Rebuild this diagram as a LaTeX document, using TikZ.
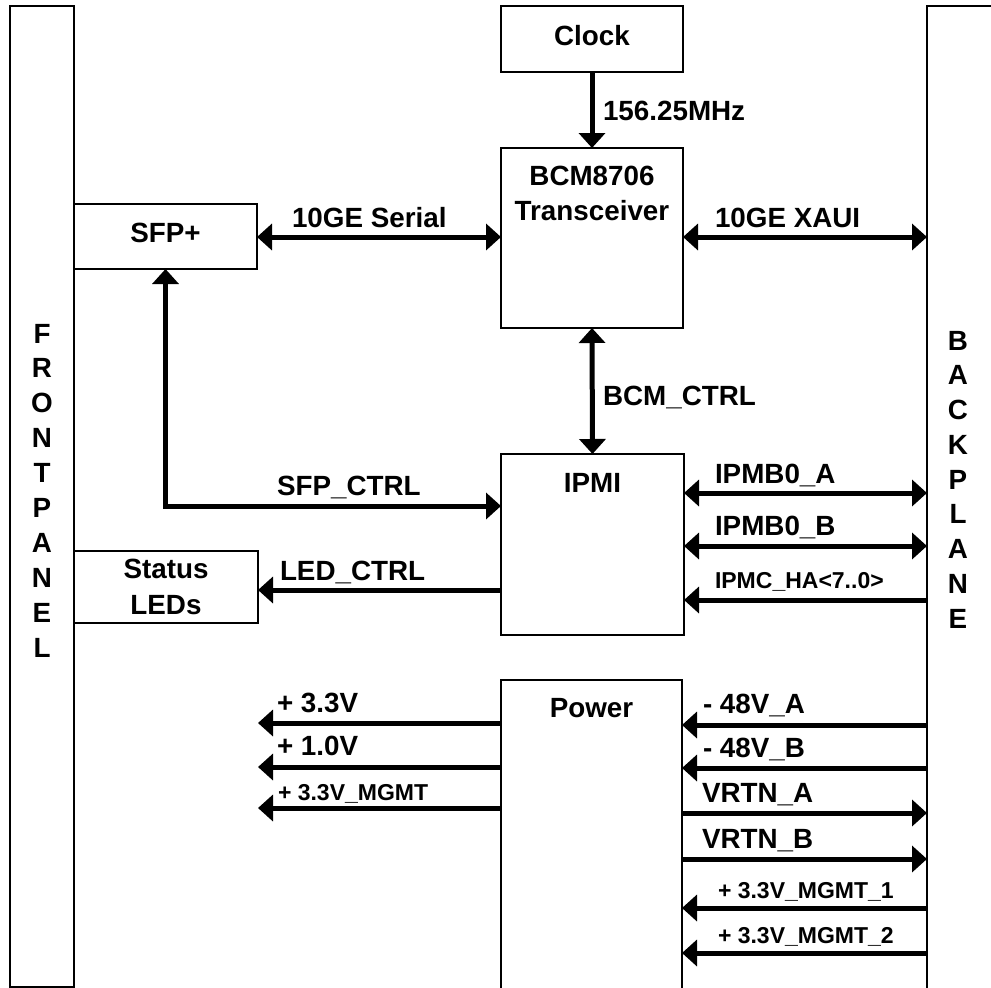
\documentclass[tikz,border=0pt]{standalone}
\usepackage{fontspec}
\setmainfont{Liberation Sans}
\usetikzlibrary{arrows.meta}
\tikzset{
  box/.style={draw, line width=1.6pt, inner sep=0pt, outer sep=0pt},
  txt/.style={inner sep=0pt, outer sep=0pt, font=\fontsize{27.8}{35}\selectfont\bfseries},
  stxt/.style={inner sep=0pt, outer sep=0pt, font=\fontsize{23}{28}\selectfont\bfseries},
  lab/.style={txt, anchor=base west},
  slab/.style={stxt, anchor=base west},
  sig/.style={line width=5pt, ->},
  dsig/.style={line width=5pt, <->},
  >={Triangle[length=15pt,width=26pt]}
}
\begin{document}
\begin{tikzpicture}[x=1pt,y=-1pt]
\clip (0,0) rectangle (991,988);
\fill[white] (0,0) rectangle (991,988);
% panels
\node[box, minimum width=64pt, minimum height=981pt] (front) at (42,496.5) {};
\node[box, minimum width=83pt, minimum height=1004pt] (back) at (968.5,508) {};
% boxes
\node[box, minimum width=182pt, minimum height=66pt] (clock) at (592,39) {};
\node[box, minimum width=182pt, minimum height=180pt] (bcm) at (592,238) {};
\node[box, minimum width=183pt, minimum height=65pt] (sfp) at (165.5,236.5) {};
\node[box, minimum width=183pt, minimum height=181pt] (ipmi) at (592.5,544.5) {};
\node[box, minimum width=184pt, minimum height=72pt] (leds) at (166,587) {};
\node[box, minimum width=181pt, minimum height=330pt] (power) at (591.5,845) {};
% box texts
\node[txt, anchor=base] (tclock) at (592,45) {Clock};
\node[txt, anchor=base] (tbcm1) at (592,185) {BCM8706};
\node[txt, anchor=base] (tbcm2) at (592,220) {Transceiver};
\node[txt, anchor=base] (tsfp) at (165.5,242) {SFP+};
\node[txt, anchor=base] (tled1) at (166,578) {Status};
\node[txt, anchor=base] (tled2) at (166,614) {LEDs};
\node[txt, anchor=base] (tipmi) at (592.5,492) {IPMI};
\node[txt, anchor=base] (tpower) at (591.5,717) {Power};
% panel letters
\foreach \l [count=\i from 0] in {F,R,O,N,T,P,A,N,E,L}
  \node[txt, anchor=base] (fp\i) at (42,343+34.9*\i) {\l};
\foreach \l [count=\i from 0] in {B,A,C,K,P,L,A,N,E}
  \node[txt, anchor=base] (bp\i) at (958,350+34.75*\i) {\l};
% level coordinates
\coordinate (ya) at (0,237);
\coordinate (ysfp) at (0,506);
\coordinate (yled) at (0,590);
\coordinate (yb0a) at (0,493);
\coordinate (yb0b) at (0,546);
\coordinate (yha) at (0,600);
\coordinate (yp1) at (0,723);
\coordinate (yp2) at (0,767);
\coordinate (yp3) at (0,808);
\coordinate (yr1) at (0,725);
\coordinate (yr2) at (0,768);
\coordinate (yr3) at (0,813);
\coordinate (yr4) at (0,859);
\coordinate (yr5) at (0,908);
\coordinate (yr6) at (0,953);
% connectors
\draw[sig] (clock.south) -- (bcm.north);
\draw[dsig] (sfp.east |- ya) -- (bcm.west |- ya);
\draw[dsig] (bcm.east |- ya) -- (back.west |- ya);
\draw[dsig] (bcm.south) -- (ipmi.north);
\draw[dsig] (sfp.south) |- (ipmi.west |- ysfp);
\draw[sig] (ipmi.west |- yled) -- (leds.east |- yled);
\draw[dsig] (ipmi.east |- yb0a) -- (back.west |- yb0a);
\draw[dsig] (ipmi.east |- yb0b) -- (back.west |- yb0b);
\draw[sig] (back.west |- yha) -- (ipmi.east |- yha);
\draw[sig] (power.west |- yp1) -- (leds.east |- yp1);
\draw[sig] (power.west |- yp2) -- (leds.east |- yp2);
\draw[sig] (power.west |- yp3) -- (leds.east |- yp3);
\draw[sig] (back.west |- yr1) -- (power.east |- yr1);
\draw[sig] (back.west |- yr2) -- (power.east |- yr2);
\draw[sig] (power.east |- yr3) -- (back.west |- yr3);
\draw[sig] (power.east |- yr4) -- (back.west |- yr4);
\draw[sig] (back.west |- yr5) -- (power.east |- yr5);
\draw[sig] (back.west |- yr6) -- (power.east |- yr6);
% connector labels
\node[lab] (lclk) at (603,120) {156.25MHz};
\node[lab] (lser) at (292,227) {10GE Serial};
\node[lab] (lxaui) at (715,227) {10GE XAUI};
\node[lab] (lbcm) at (603,405) {BCM\_CTRL};
\node[lab] (lsfp) at (277,495) {SFP\_CTRL};
\node[lab] (lled) at (280,580) {LED\_CTRL};
\node[lab] (lb0a) at (715,483) {IPMB0\_A};
\node[lab] (lb0b) at (715,535) {IPMB0\_B};
\node[slab] (lha) at (715,588) {IPMC\_HA<7..0>};
\node[lab] (lp1) at (277,712) {+ 3.3V};
\node[lab] (lp2) at (277,755) {+ 1.0V};
\node[slab] (lp3) at (278,800) {+ 3.3V\_MGMT};
\node[lab] (lr1) at (703,713) {- 48V\_A};
\node[lab] (lr2) at (703,757) {- 48V\_B};
\node[lab] (lr3) at (702,802) {VRTN\_A};
\node[lab] (lr4) at (702,848) {VRTN\_B};
\node[slab] (lr5) at (718,898) {+ 3.3V\_MGMT\_1};
\node[slab] (lr6) at (718,943) {+ 3.3V\_MGMT\_2};
\end{tikzpicture}
\end{document}
